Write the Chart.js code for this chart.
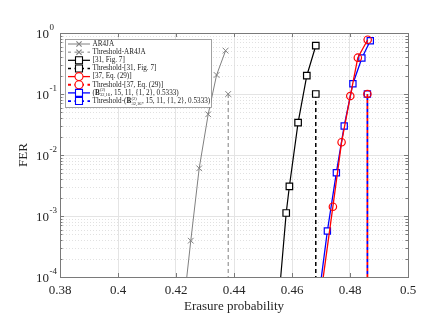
<!DOCTYPE html>
<html>
<head>
<meta charset="utf-8">
<script src="https://cdn.jsdelivr.net/npm/chart.js@4.4.1/dist/chart.umd.min.js"></script>
<style>
  html, body { margin: 0; padding: 0; background: #fff; }
  canvas { display: block; }
</style>
</head>
<body>
<canvas id="ferChart" width="436" height="327"></canvas>
<script>
// Values: erasure probability vs FER.
// The first point of each curve sits below 1e-4 so the line runs to the axis.
const xTicks = [0.38, 0.40, 0.42, 0.44, 0.46, 0.48, 0.50];
const yTicks = [1e-4, 1e-3, 1e-2, 1e-1, 1];

const ar4jaEps = [0.4214, 0.4251, 0.4280, 0.4311, 0.4340, 0.4371];
const ar4jaFer = [1e-5, 3.94e-4, 6.05e-3, 0.0465, 0.205, 0.513];

const ref31Eps = [0.4543, 0.4580, 0.4591, 0.4621, 0.4651, 0.4682];
const ref31Fer = [1e-5, 1.12e-3, 3.07e-3, 0.0339, 0.1995, 0.619];

const ref37Eps = [0.4679, 0.4741, 0.4771, 0.4801, 0.4827, 0.4861];
const ref37Fer = [1e-5, 1.42e-3, 0.0162, 0.0927, 0.394, 0.776];

const protoEps = [0.4674, 0.4722, 0.4753, 0.4780, 0.4810, 0.4841, 0.4870];
const protoFer = [1e-5, 5.68e-4, 5.13e-3, 0.0299, 0.1476, 0.389, 0.748];

// thresholds: vertical dashed line from FER 0.1 down to the axis
const thresholdFer = [0.1, 1e-4];
const thrAr4ja = 0.4380;
const thr31 = 0.4682;
const thr37 = 0.4860;
const thrProto = 0.4860;

const legendLabels = [
  'AR4JA',
  'Threshold-AR4JA',
  '[31, Fig. 7]',
  'Threshold-[31, Fig. 7]',
  '[37, Eq. (29)]',
  'Threshold-[37, Eq. (29)]',
  '',            // drawn with sub/superscripts below
  'Threshold-'
];

const SERIF = '"Liberation Serif", "Times New Roman", serif';

function toPoints(xs, ys) {
  return xs.map((x, i) => ({ x, y: ys[i] }));
}

function thresholdPoints(x) {
  return thresholdFer.map(y => ({ x, y }));
}

const GRAY = '#808080';
const BLACK = '#000000';
const RED = '#ff0000';
const BLUE = '#0000ff';

const datasets = [
  {
    label: legendLabels[0],
    data: toPoints(ar4jaEps, ar4jaFer),
    borderColor: GRAY, borderWidth: 1,
    pointStyle: 'crossRot', pointRadius: 4, pointBorderColor: GRAY, pointBorderWidth: 1,
  },
  {
    label: legendLabels[1],
    data: thresholdPoints(thrAr4ja),
    borderColor: GRAY, borderWidth: 1, borderDash: [4, 3],
    pointStyle: 'crossRot', pointRadius: [4, 0], pointBorderColor: GRAY, pointBorderWidth: 1,
  },
  {
    label: legendLabels[2],
    data: toPoints(ref31Eps, ref31Fer),
    borderColor: BLACK, borderWidth: 1.2,
    pointStyle: 'rect', pointRadius: 4.6, pointBorderColor: BLACK,
    pointBackgroundColor: '#fff', pointBorderWidth: 1.2,
  },
  {
    label: legendLabels[3],
    data: thresholdPoints(thr31),
    borderColor: BLACK, borderWidth: 1.5, borderDash: [4, 3],
    pointStyle: 'rect', pointRadius: [4.6, 0], pointBorderColor: BLACK,
    pointBackgroundColor: '#fff', pointBorderWidth: 1.2,
  },
  {
    label: legendLabels[4],
    data: toPoints(ref37Eps, ref37Fer),
    borderColor: RED, borderWidth: 1.3,
    pointStyle: 'circle', pointRadius: 3.7, pointBorderColor: RED,
    pointBackgroundColor: 'rgba(255,255,255,0)', pointBorderWidth: 1.2,
  },
  {
    label: legendLabels[5],
    data: thresholdPoints(thr37),
    borderColor: RED, borderWidth: 1.8, borderDash: [3, 3],
    pointStyle: 'circle', pointRadius: [3.7, 0], pointBorderColor: RED,
    pointBackgroundColor: 'rgba(255,255,255,0)', pointBorderWidth: 1.2,
  },
  {
    label: 'proto',
    data: toPoints(protoEps, protoFer),
    borderColor: BLUE, borderWidth: 1.3,
    pointStyle: 'rect', pointRadius: 4.4, pointBorderColor: BLUE,
    pointBackgroundColor: '#fff', pointBorderWidth: 1.2,
  },
  {
    label: 'proto-threshold',
    data: thresholdPoints(thrProto),
    borderColor: BLUE, borderWidth: 1.8, borderDash: [3, 3], borderDashOffset: 3,
    pointStyle: 'rect', pointRadius: [4.4, 0], pointBorderColor: BLUE,
    pointBackgroundColor: 'rgba(255,255,255,0)', pointBorderWidth: 1.2,
  },
];

// marker for the hand-drawn legend
function drawMarker(ctx, style, x, y, color) {
  ctx.save();
  ctx.strokeStyle = color;
  ctx.lineWidth = 1.1;
  ctx.setLineDash([]);
  ctx.beginPath();
  if (style === 'crossRot') {
    const r = 2.6;
    ctx.moveTo(x - r, y - r); ctx.lineTo(x + r, y + r);
    ctx.moveTo(x - r, y + r); ctx.lineTo(x + r, y - r);
    ctx.stroke();
  } else if (style === 'rect') {
    ctx.fillStyle = '#fff';
    ctx.rect(x - 3.5, y - 3.5, 7, 7);
    ctx.fill(); ctx.stroke();
  } else {
    ctx.fillStyle = '#fff';
    ctx.arc(x, y, 4, 0, Math.PI * 2);
    ctx.fill(); ctx.stroke();
  }
  ctx.restore();
}

// "(B^(2)_32,16, 15, 11, {1, 2}, 0.5333)" with optional prefix
function drawProtoLabel(ctx, prefix, x, y, size) {
  ctx.save();
  ctx.textBaseline = 'middle';
  ctx.textAlign = 'left';
  ctx.fillStyle = '#222';
  ctx.font = size + 'px ' + SERIF;
  let t = prefix + '(';
  ctx.fillText(t, x, y);
  x += ctx.measureText(t).width;
  ctx.font = 'bold ' + size + 'px ' + SERIF;
  ctx.fillText('B', x, y);
  x += ctx.measureText('B').width + 0.3;
  ctx.font = (size * 0.62) + 'px ' + SERIF;
  ctx.fillText('(2)', x, y - 2.6);
  const w1 = ctx.measureText('(2)').width;
  ctx.fillText('32,16', x, y + 2.4);
  const w2 = ctx.measureText('32,16').width;
  x += Math.max(w1, w2) + 0.4;
  ctx.font = size + 'px ' + SERIF;
  ctx.fillText(', 15, 11, {1, 2}, 0.5333)', x, y);
  ctx.restore();
}

const frame = {
  id: 'frame',
  beforeDatasetsDraw(chart) {
    const { ctx, chartArea: a, scales } = chart;
    const ys = scales.y;
    ctx.save();
    ctx.strokeStyle = '#d9d9d9';
    ctx.lineWidth = 0.8;
    ctx.setLineDash([1, 2]);
    for (let d = -4; d < 0; d++) {
      for (let k = 2; k < 10; k++) {
        const py = Math.round(ys.getPixelForValue(k * Math.pow(10, d))) + 0.5;
        ctx.beginPath();
        ctx.moveTo(a.left, py);
        ctx.lineTo(a.right, py);
        ctx.stroke();
      }
    }
    ctx.restore();
  },
  afterDraw(chart) {
    const { ctx, chartArea: a, scales } = chart;
    const xs = scales.x, ys = scales.y;
    ctx.save();

    // axis box
    ctx.strokeStyle = '#7a7a7a';
    ctx.lineWidth = 1;
    ctx.setLineDash([]);
    ctx.strokeRect(a.left + 0.5, a.top + 0.5, a.right - a.left, a.bottom - a.top);

    // inward ticks
    ctx.beginPath();
    xTicks.forEach(v => {
      const px = Math.round(xs.getPixelForValue(v)) + 0.5;
      ctx.moveTo(px, a.bottom); ctx.lineTo(px, a.bottom - 4);
      ctx.moveTo(px, a.top); ctx.lineTo(px, a.top + 4);
    });
    for (let d = -4; d <= 0; d++) {
      const py = Math.round(ys.getPixelForValue(Math.pow(10, d))) + 0.5;
      ctx.moveTo(a.left, py); ctx.lineTo(a.left + 4, py);
      ctx.moveTo(a.right, py); ctx.lineTo(a.right - 4, py);
      if (d === 0) continue;
      for (let k = 2; k < 10; k++) {
        const pm = Math.round(ys.getPixelForValue(k * Math.pow(10, d))) + 0.5;
        ctx.moveTo(a.left, pm); ctx.lineTo(a.left + 2.5, pm);
        ctx.moveTo(a.right, pm); ctx.lineTo(a.right - 2.5, pm);
      }
    }
    ctx.stroke();

    // y tick labels 10^d
    ctx.fillStyle = '#262626';
    yTicks.forEach(v => {
      const d = Math.round(Math.log10(v));
      const py = ys.getPixelForValue(v);
      ctx.font = '13px ' + SERIF;
      ctx.textAlign = 'right';
      ctx.textBaseline = 'middle';
      ctx.fillText('10', 49, py + 1.5);
      ctx.font = '9px ' + SERIF;
      ctx.textAlign = 'left';
      ctx.fillText(String(d), 49.5, py - 5);
    });

    // legend
    const lx = 65, ly = 39, lw = 146, lh = 68;
    ctx.fillStyle = '#fff';
    ctx.fillRect(lx, ly, lw, lh);
    ctx.strokeStyle = '#8a8a8a';
    ctx.lineWidth = 0.8;
    ctx.strokeRect(lx + 0.5, ly + 0.5, lw, lh);
    chart.data.datasets.forEach((ds, i) => {
      const y = ly + 5 + i * 8.15;
      ctx.save();
      ctx.strokeStyle = ds.borderColor;
      ctx.lineWidth = ds.borderWidth;
      ctx.setLineDash(ds.borderDash ? [3, 3.5] : []);
      ctx.beginPath();
      ctx.moveTo(lx + 3, y);
      ctx.lineTo(lx + 25, y);
      ctx.stroke();
      ctx.restore();
      drawMarker(ctx, ds.pointStyle, lx + 14, y, ds.pointBorderColor);
      if (i < 6) {
        ctx.fillStyle = '#222';
        ctx.font = '7.2px ' + SERIF;
        ctx.textAlign = 'left';
        ctx.textBaseline = 'middle';
        ctx.fillText(legendLabels[i], lx + 27.5, y);
      } else {
        drawProtoLabel(ctx, legendLabels[i], lx + 27.5, y, 7.2);
      }
    });
    ctx.restore();
  }
};

new Chart(document.getElementById('ferChart'), {
  type: 'line',
  data: { datasets },
  options: {
    responsive: false,
    animation: false,
    devicePixelRatio: 1,
    layout: { padding: { left: 0, right: 28, top: 33, bottom: 0 } },
    plugins: {
      legend: { display: false },
      tooltip: { enabled: false },
    },
    scales: {
      x: {
        type: 'linear',
        min: 0.38,
        max: 0.5,
        afterBuildTicks: s => { s.ticks = xTicks.map(v => ({ value: v })); },
        afterFit: s => { s.height = 50; },
        grid: { color: '#e4e4e4', drawTicks: false },
        border: { display: false },
        ticks: {
          padding: 6,
          color: '#262626',
          font: { family: SERIF, size: 13 },
          callback: v => String(parseFloat(v.toFixed(2))),
        },
        title: {
          display: true,
          text: 'Erasure probability',
          color: '#262626',
          font: { family: SERIF, size: 13 },
          padding: { top: 0, bottom: 13 },
        },
      },
      y: {
        type: 'logarithmic',
        min: 1e-4,
        max: 1,
        afterBuildTicks: s => { s.ticks = yTicks.map(v => ({ value: v })); },
        afterFit: s => { s.width = 60; },
        grid: { color: '#e4e4e4', drawTicks: false },
        border: { display: false },
        ticks: { display: false },
        title: {
          display: true,
          text: 'FER',
          color: '#262626',
          font: { family: SERIF, size: 13 },
          padding: { top: 16, bottom: 0 },
        },
      },
    },
  },
  plugins: [frame],
});
</script>
</body>
</html>
